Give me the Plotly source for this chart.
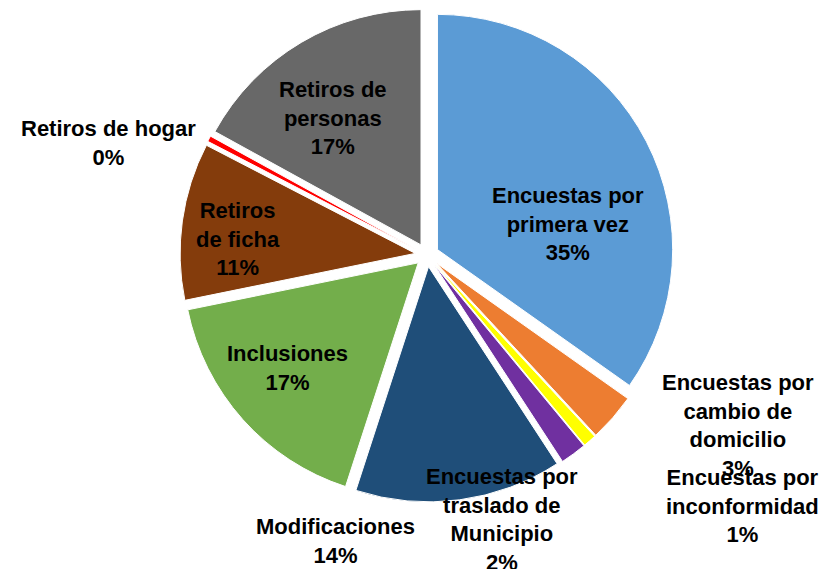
import plotly.graph_objects as go

categories = [
    "Encuestas por primera vez",
    "Encuestas por cambio de domicilio",
    "Encuestas por inconformidad",
    "Encuestas por traslado de Municipio",
    "Modificaciones",
    "Inclusiones",
    "Retiros de ficha",
    "Retiros de hogar",
    "Retiros de personas",
]
label_text = [
    "Encuestas por<br>primera vez",
    "Encuestas por<br>cambio de<br>domicilio",
    "Encuestas por<br>inconformidad",
    "Encuestas por<br>traslado de<br>Municipio",
    "Modificaciones",
    "Inclusiones",
    "Retiros<br>de ficha",
    "Retiros de hogar",
    "Retiros de<br>personas",
]
values = [34.8, 3.3, 0.9, 1.8, 14.2, 16.8, 10.8, 0.4, 17.0]
colors = ["#5B9BD5", "#ED7D31", "#FFFF00", "#7030A0", "#1F4E79",
          "#73AE4B", "#843C0C", "#FF0000", "#686868"]

total = sum(values)
pct = [round(v / total * 100) for v in values]

# label centres in page pixels, same order as categories
label_pos = [
    (568, 223), (738, 424), (742, 505), (502, 519), (335, 540),
    (287, 367), (238, 238), (108, 142), (333, 117),
]

W, H = 828, 569
OFF = 8      # page body margin
TXT_DY = 7   # annotations render a bit low
font = dict(family="Liberation Sans, Arial", size=22, color="black", weight="bold")

cx, cy, half = 427 - OFF, 255 - OFF, 247
fig = go.Figure(go.Pie(
    labels=categories,
    values=values,
    sort=False,
    direction="clockwise",
    rotation=0,
    pull=[0.05] * len(values),
    marker=dict(colors=colors, line=dict(color="white", width=1)),
    textinfo="none",
    hoverinfo="label+percent",
    domain=dict(x=[(cx - half) / W, (cx + half) / W],
                y=[1 - (cy + half) / H, 1 - (cy - half) / H]),
))

for i, (px, py) in enumerate(label_pos):
    fig.add_annotation(
        x=(px - OFF) / W, y=1 - (py - TXT_DY) / H, xref="paper", yref="paper",
        text=f"{label_text[i]}<br>{pct[i]}%",
        showarrow=False, font=font, align="center",
        xanchor="center", yanchor="middle",
    )

fig.update_layout(
    width=W, height=H,
    margin=dict(l=0, r=0, t=0, b=0),
    showlegend=False,
    paper_bgcolor="white",
    plot_bgcolor="white",
)

fig.write_html("out.html")
